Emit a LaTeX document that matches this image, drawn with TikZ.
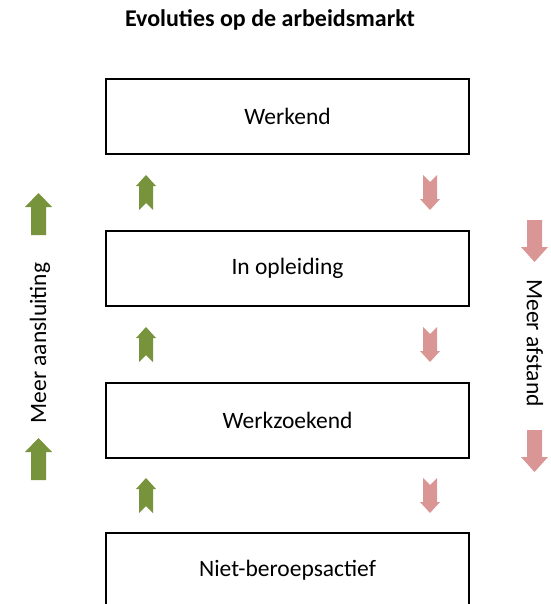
\documentclass[tikz,border=0pt]{standalone}
\usepackage{fontspec}
\setmainfont{Carlito}
\definecolor{upgreen}{HTML}{77933C}
\definecolor{downred}{HTML}{D99694}
\begin{document}
\begin{tikzpicture}[x=1pt,y=-1pt,
  statebox/.style={draw=black,line width=1.5pt,minimum width=363pt,minimum height=75pt,inner sep=0pt,font=\fontsize{23.5}{28}\selectfont},
  sidelabel/.style={font=\fontsize{23.5}{28}\selectfont,inner sep=0pt},
  notchup/.pic={\fill[upgreen] (0,0) -- (10,11) -- (7,11) -- (7,35) -- (0,28) -- (-7,35) -- (-7,11) -- (-10,11) -- cycle;},
  notchdown/.pic={\fill[downred] (-7,0) -- (0,7) -- (7,0) -- (7,24) -- (10,24) -- (0,35) -- (-10,24) -- (-7,24) -- cycle;},
  bigup/.pic={\fill[upgreen] (0,0) -- (13.5,14) -- (7.5,14) -- (7.5,42) -- (-7.5,42) -- (-7.5,14) -- (-13.5,14) -- cycle;},
  bigdown/.pic={\fill[downred] (-7.5,0) -- (7.5,0) -- (7.5,27) -- (13.5,27) -- (0,42) -- (-13.5,27) -- (-7.5,27) -- cycle;}
]
\useasboundingbox (0,0) rectangle (550,604);
\node[font=\bfseries\fontsize{24}{29}\selectfont] (title) at (270,20) {Evoluties op de arbeidsmarkt};
\node[statebox] (werkend) at (287.5,116.5) {Werkend};
\node[statebox] (opleiding) at (287.5,268.5) {In opleiding};
\node[statebox] (werkzoekend) at (287.5,420.5) {Werkzoekend};
\node[statebox] (niet) at (287.5,570.5) {Niet-beroepsactief};
\foreach \t in {175,327,478} {
  \pic at (146,\t) {notchup};
  \pic at (430,\t) {notchdown};
}
\pic at (38.5,193) {bigup};
\pic at (38.5,438) {bigup};
\pic at (534.5,220) {bigdown};
\pic at (534.5,430) {bigdown};
\node[sidelabel,rotate=90] (aansluiting) at (40,343) {Meer aansluiting};
\node[sidelabel,rotate=-90] (afstand) at (535,343) {Meer afstand};
\end{tikzpicture}
\end{document}
